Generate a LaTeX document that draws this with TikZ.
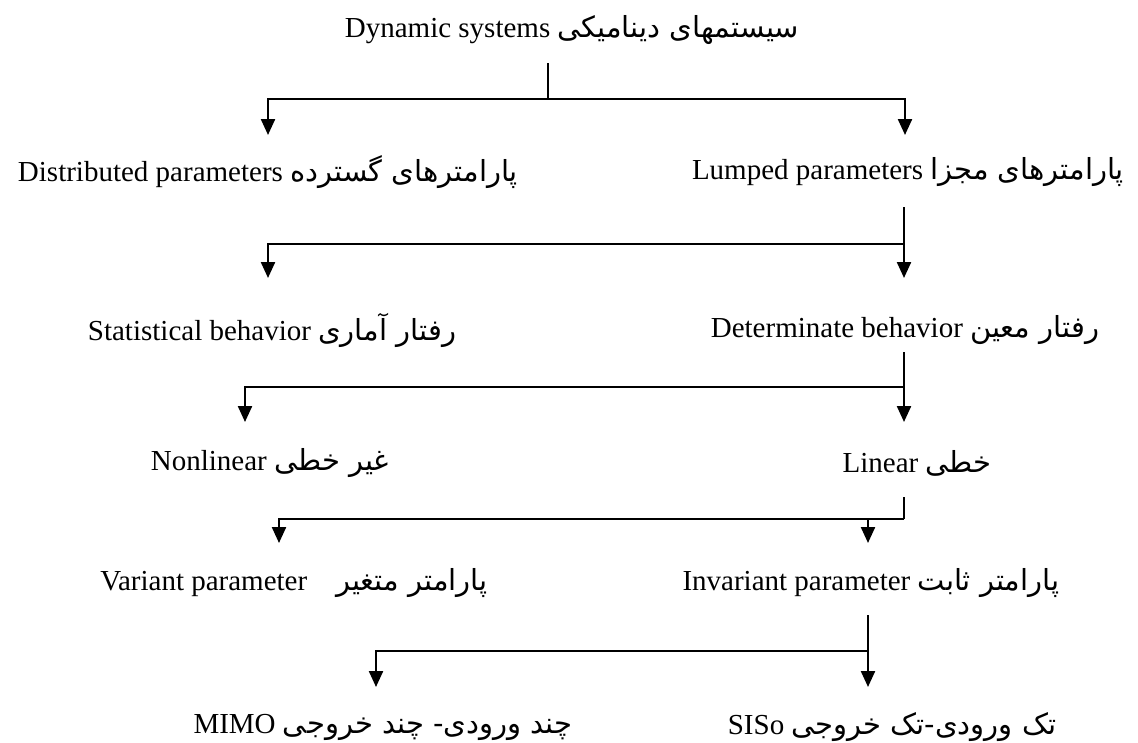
\documentclass[tikz,border=0pt]{standalone}
\usepackage{fontspec}
\setmainfont{Liberation Serif}
\newfontfamily\fa[Script=Arabic,Scale=1.0]{DejaVu Sans}
\TeXXeTstate=1
\usetikzlibrary{arrows.meta,calc}
\newcommand{\pf}[1]{{\fa\beginR #1\endR}}
\begin{document}
\begin{tikzpicture}[x=1pt,y=-1pt,
  lbl/.style={inner sep=0pt, font=\fontsize{29}{34}\selectfont},
  ln/.style={line width=2.3pt},
  arr/.style={line width=2.3pt, -{Triangle[length=16pt,width=14pt]}}]
\useasboundingbox (0,0) rectangle (1138,742);

\node[lbl] (top) at (572,30) {Dynamic systems \pf{سیستمهای دینامیکی}};

\node[lbl] (dist) at (268,172) {Distributed parameters \pf{پارامترهای گسترده}};
\node[lbl] (lump) at (908,172) {Lumped parameters \pf{پارامترهای مجزا}};

\node[lbl] (stat) at (272,330) {Statistical behavior \pf{رفتار آماری}};
\node[lbl] (det) at (905,330) {Determinate behavior \pf{رفتار معین}};

\node[lbl] (nonlin) at (270,463) {Nonlinear \pf{غیر خطی}};
\node[lbl] (lin) at (917,463) {Linear \pf{خطی}};

\node[lbl] (var) at (294,583) {Variant parameter\quad \pf{پارامتر متغیر}};
\node[lbl] (invar) at (871,583) {Invariant parameter \pf{پارامتر ثابت}};

\node[lbl] (mimo) at (383,727) {MIMO \pf{چند ورودی- چند خروجی}};
\node[lbl] (siso) at (892,727) {SISo \pf{تک ورودی-تک خروجی}};

% branch 1
\coordinate (t1) at (548,63);
\coordinate (j1) at (548,99);
\coordinate (a1L) at (268,135);
\coordinate (a1R) at (905,135);
\draw[ln] (t1) -- (j1);
\draw[arr] (j1) -| (a1L);
\draw[arr] (j1) -| (a1R);

% branch 2
\coordinate (t2) at (904,207);
\coordinate (j2) at (904,244);
\coordinate (a2L) at (268,278);
\coordinate (a2R) at (904,278);
\draw[arr] (t2) -- (a2R);
\draw[arr] (j2) -| (a2L);

% branch 3
\coordinate (t3) at (904,352);
\coordinate (j3) at (904,387);
\coordinate (a3L) at (245,422);
\coordinate (a3R) at (904,422);
\draw[arr] (t3) -- (a3R);
\draw[arr] (j3) -| (a3L);

% branch 4
\coordinate (t4) at (904,497);
\coordinate (j4) at (904,519);
\coordinate (a4L) at (279,543);
\coordinate (a4R) at (868,543);
\draw[ln] (t4) -- (j4);
\draw[arr] (j4) -| (a4L);
\draw[arr] (j4 -| a4R) -- (a4R);

% branch 5
\coordinate (t5) at (868,615);
\coordinate (j5) at (868,651);
\coordinate (a5L) at (376,687);
\coordinate (a5R) at (868,687);
\draw[arr] (t5) -- (a5R);
\draw[arr] (j5) -| (a5L);
\end{tikzpicture}
\end{document}
